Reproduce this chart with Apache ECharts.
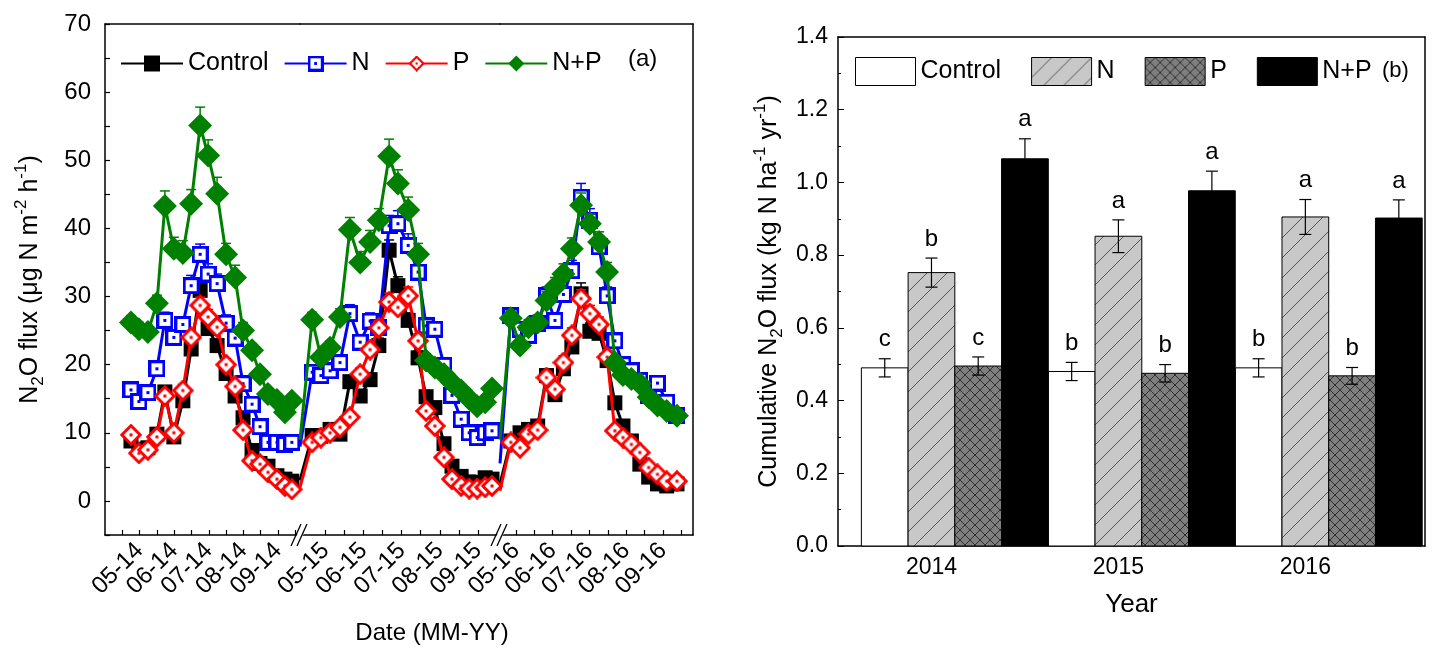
<!DOCTYPE html>
<html><head><meta charset="utf-8">
<script src="https://cdn.jsdelivr.net/npm/echarts@6/dist/echarts.min.js"></script>
<style>html,body{margin:0;padding:0;background:#fff}#c{width:1434px;height:650px}</style>
</head><body><div id="c"></div>
<script>
// ---------- Panel (a): weekly N2O flux, sampling dates as decimal month ----------
const yearSuffix = ['14', '15', '16'];
const months2014 = [4.75, 4.98, 5.24, 5.50, 5.73, 5.99, 6.25, 6.49, 6.75, 6.98, 7.24, 7.50, 7.76, 7.99, 8.25, 8.48, 8.71, 8.97, 9.20, 9.40];
const months2015 = [4.65, 4.88, 5.12, 5.38, 5.64, 5.91, 6.17, 6.40, 6.67, 6.90, 7.17, 7.43, 7.64, 7.87, 8.11, 8.32, 8.56, 8.77, 8.98, 9.19, 9.37];
const months2016 = [4.86, 5.11, 5.34, 5.59, 5.83, 6.06, 6.29, 6.52, 6.77, 7.01, 7.26, 7.48, 7.69, 7.91, 8.14, 8.37, 8.61, 8.85, 9.10, 9.38];

const control2014 = [8.8, 7.6, 7.8, 9.8, 16.0, 9.4, 14.7, 22.3, 30.9, 25.3, 22.8, 18.7, 15.4, 12.2, 7.4, 5.5, 5.1, 3.7, 3.2, 2.9];
const n2014       = [16.3, 14.6, 15.9, 19.4, 26.5, 24.0, 25.9, 31.6, 36.2, 33.3, 31.9, 26.1, 23.9, 17.2, 14.2, 10.9, 8.6, 8.6, 8.3, 8.6];
const p2014       = [9.7, 7.0, 7.5, 9.4, 15.4, 10.0, 16.2, 24.0, 28.7, 27.0, 25.5, 20.0, 16.8, 10.4, 5.9, 5.4, 4.2, 3.2, 2.2, 1.7];
const np2014      = [26.2, 25.2, 24.8, 29.0, 43.3, 37.0, 36.4, 43.6, 55.1, 50.7, 45.1, 36.2, 32.8, 25.0, 22.1, 18.6, 15.7, 14.8, 13.0, 14.7];

const control2015 = [9.6, 9.5, 10.5, 9.8, 17.5, 15.4, 17.8, 22.8, 36.8, 31.6, 26.5, 21.0, 15.3, 13.7, 8.4, 5.1, 3.6, 2.8, 2.7, 3.4, 3.2];
const n2015       = [18.9, 18.4, 19.1, 20.3, 27.5, 23.3, 26.4, 25.5, 40.4, 40.7, 37.5, 33.6, 25.7, 25.2, 19.9, 15.5, 12.0, 10.0, 9.3, 10.0, 10.3];
const p2015       = [8.6, 9.3, 10.0, 10.8, 12.3, 18.6, 22.2, 25.4, 29.2, 28.4, 30.1, 23.5, 13.2, 11.0, 6.4, 3.2, 2.2, 1.8, 1.8, 2.0, 2.2];
const np2015      = [26.6, 21.1, 22.5, 27.0, 39.8, 35.0, 38.0, 41.2, 50.6, 46.6, 42.7, 36.2, 20.6, 19.6, 18.6, 17.4, 16.2, 15.0, 13.9, 14.5, 16.5];

const control2016 = [8.8, 10.0, 10.5, 11.0, 18.4, 15.6, 19.4, 22.6, 30.4, 24.9, 24.6, 20.6, 14.4, 11.0, 8.8, 5.4, 3.5, 2.5, 2.2, 2.5];
const n2016       = [27.2, 25.2, 24.3, 26.0, 30.1, 26.5, 30.3, 33.8, 44.6, 41.2, 37.3, 30.1, 23.5, 20.0, 19.1, 17.7, 15.5, 17.3, 14.5, 12.5];
const p2016       = [8.6, 7.8, 9.8, 10.4, 18.1, 16.4, 20.3, 24.3, 29.7, 27.5, 25.9, 21.1, 10.3, 9.3, 8.3, 7.1, 4.9, 3.9, 2.9, 2.9];
const np2016      = [26.8, 22.8, 25.5, 26.2, 29.4, 31.4, 33.3, 37.0, 43.4, 40.7, 38.0, 33.6, 20.3, 18.5, 17.9, 17.2, 15.2, 14.0, 13.2, 12.5];

// values where the connecting lines leave the axis break (Control, N, P, N+P)
const breakEdge2015 = [3.0, 8.0, 2.0, 9.0];
const breakEdge2016 = [2.5, 5.5, 1.5, 9.0];

// standard errors (upper half visible above markers)
const errControl2014 = [0.6, 0.6, 0.6, 0.6, 0.8, 0.6, 0.8, 1.0, 1.2, 1.0, 0.9, 0.8, 0.7, 0.6, 0.5, 0.5, 0.4, 0.4, 0.3, 0.3];
const errN2014       = [0.8, 0.8, 0.8, 0.9, 1.2, 1.0, 1.1, 1.5, 1.5, 1.5, 1.4, 1.2, 1.0, 0.9, 0.8, 0.7, 0.6, 0.6, 0.6, 0.6];
const errP2014       = [0.6, 0.5, 0.5, 0.6, 0.8, 0.6, 0.9, 1.0, 1.2, 1.1, 1.0, 0.9, 0.8, 0.6, 0.4, 0.4, 0.3, 0.3, 0.2, 0.2];
const errNP2014      = [1.0, 1.0, 1.0, 1.2, 2.2, 1.7, 1.8, 2.1, 2.7, 2.3, 2.4, 1.6, 1.8, 1.2, 1.0, 0.9, 0.8, 0.7, 0.7, 0.7];
const errControl2015 = [0.5, 0.5, 0.6, 0.5, 0.9, 0.8, 0.9, 1.1, 1.5, 1.3, 1.1, 1.0, 0.8, 0.7, 0.5, 0.4, 0.3, 0.3, 0.3, 0.3, 0.3];
const errN2015       = [0.8, 0.8, 0.8, 0.9, 1.3, 1.1, 1.2, 1.2, 1.5, 1.9, 1.7, 1.7, 1.2, 1.1, 0.9, 0.8, 0.7, 0.6, 0.6, 0.6, 0.6];
const errP2015       = [0.5, 0.5, 0.5, 0.6, 0.6, 0.9, 1.0, 1.1, 1.3, 1.2, 1.3, 1.0, 0.7, 0.6, 0.4, 0.3, 0.2, 0.2, 0.2, 0.2, 0.2];
const errNP2015      = [1.1, 1.0, 1.0, 1.2, 1.8, 1.6, 1.7, 1.7, 2.5, 2.0, 1.9, 1.6, 1.0, 0.9, 0.9, 0.8, 0.8, 0.7, 0.7, 0.7, 0.8];
const errControl2016 = [0.5, 0.5, 0.6, 0.6, 0.9, 0.8, 1.0, 1.1, 1.6, 1.2, 1.2, 1.0, 0.7, 0.6, 0.5, 0.4, 0.3, 0.3, 0.2, 0.3];
const errN2016       = [1.0, 1.0, 1.0, 1.0, 1.3, 1.1, 1.3, 1.5, 2.0, 1.7, 1.6, 1.3, 1.0, 0.9, 0.9, 0.8, 0.7, 0.8, 0.7, 0.6];
const errP2016       = [0.5, 0.4, 0.5, 0.5, 0.9, 0.8, 1.0, 1.1, 1.3, 1.2, 1.1, 1.0, 0.5, 0.5, 0.4, 0.4, 0.3, 0.3, 0.2, 0.2];
const errNP2016      = [1.1, 1.0, 1.1, 1.1, 1.3, 1.4, 1.5, 1.6, 1.8, 1.4, 1.5, 1.4, 1.0, 0.9, 0.9, 0.8, 0.7, 0.7, 0.6, 0.6];

const labelMonths = [5, 6, 7, 8, 9];
const seriesNamesA = ['Control', 'N', 'P', 'N+P'];

// ---------- Panel (b): cumulative N2O flux ----------
const years = [2014, 2015, 2016];
const seriesNamesB = ['Control', 'N', 'P', 'N+P'];
const cumControl = [0.490, 0.480, 0.490];
const cumN       = [0.752, 0.852, 0.905];
const cumP       = [0.495, 0.475, 0.468];
const cumNP      = [1.065, 0.977, 0.902];
const errControl = [0.025, 0.025, 0.025];
const errN       = [0.040, 0.045, 0.048];
const errP       = [0.025, 0.024, 0.023];
const errNP      = [0.055, 0.054, 0.050];
const lettersControl = ['c', 'b', 'b'];
const lettersN       = ['b', 'a', 'a'];
const lettersP       = ['c', 'b', 'b'];
const lettersNP      = ['a', 'a', 'a'];

// ---------- styling ----------
const FONT = '"Liberation Sans", Arial, sans-serif';
const segMonths = [months2014, months2015, months2016];
const segValues = [
  [control2014, n2014, p2014, np2014],
  [control2015, n2015, p2015, np2015],
  [control2016, n2016, p2016, np2016]
];
const segEdges = [null, breakEdge2015, breakEdge2016];
const segErrors = [
  [errControl2014, errN2014, errP2014, errNP2014],
  [errControl2015, errN2015, errP2015, errNP2015],
  [errControl2016, errN2016, errP2016, errNP2016]
];
const segRange = [[4.0, 9.636], [4.331, 9.58], [4.565, 9.816]];
const segTicks = [
  [4.5, 5, 5.5, 6, 6.5, 7, 7.5, 8, 8.5, 9, 9.5],
  [5, 5.5, 6, 6.5, 7, 7.5, 8, 8.5, 9],
  [5, 5.5, 6, 6.5, 7, 7.5, 8, 8.5, 9, 9.5]
];
const segGrid = [[105, 195], [300, 200], [500, 193]];
const colorsA = ['#000000', '#0000ff', '#ff0000', '#008000'];

function markerImage(kind) {
  const s = kind === 'square' ? 17 : 22;
  const c = document.createElement('canvas'); c.width = s; c.height = s;
  const g = c.getContext('2d');
  g.lineWidth = 3;
  if (kind === 'square') {
    g.fillStyle = '#fff'; g.strokeStyle = '#0000ff';
    g.fillRect(1.5, 1.5, s - 3, s - 3); g.strokeRect(1.5, 1.5, s - 3, s - 3);
    g.fillStyle = '#0000ff'; g.fillRect(s / 2 - 1.5, s / 2 - 1.5, 3, 3);
  } else {
    const h = s / 2;
    g.fillStyle = '#fff'; g.strokeStyle = '#ff0000';
    g.beginPath(); g.moveTo(h, 1.8); g.lineTo(s - 1.8, h); g.lineTo(h, s - 1.8); g.lineTo(1.8, h); g.closePath();
    g.fill(); g.stroke();
    g.fillStyle = '#ff0000'; g.fillRect(h - 1.5, h - 1.5, 3, 3);
  }
  return { url: 'image://' + c.toDataURL(), size: s };
}
const sqImg = markerImage('square');
const diaImg = markerImage('diamond');
const symbolsA = [
  { symbol: 'rect', size: 15 },
  { symbol: sqImg.url, size: sqImg.size },
  { symbol: diaImg.url, size: diaImg.size },
  { symbol: 'diamond', size: 24 }
];

function hatch(bg, fg, size, cross) {
  const c = document.createElement('canvas'); c.width = size; c.height = size;
  const g = c.getContext('2d');
  g.fillStyle = bg; g.fillRect(0, 0, size, size);
  g.strokeStyle = fg; g.lineWidth = 1;
  g.beginPath();
  g.moveTo(0, size); g.lineTo(size, 0);
  g.moveTo(-size / 2, size / 2); g.lineTo(size / 2, -size / 2);
  g.moveTo(size / 2, size * 1.5); g.lineTo(size * 1.5, size / 2);
  if (cross) {
    g.moveTo(0, 0); g.lineTo(size, size);
    g.moveTo(-size / 2, size / 2); g.lineTo(size / 2, size * 1.5);
    g.moveTo(size / 2, -size / 2); g.lineTo(size * 1.5, size / 2);
  }
  g.stroke();
  return { type: 'pattern', image: c, repeat: 'repeat' };
}
const fillsB = ['#ffffff', hatch('#c8c8c8', '#555555', 20, false), hatch('#7f7f7f', '#303030', 10, true), '#000000'];
const valuesB = [cumControl, cumN, cumP, cumNP];
const errorsB = [errControl, errN, errP, errNP];
const lettersB = [lettersControl, lettersN, lettersP, lettersNP];
const barWidthYears = 0.25;
const barOffsets = [-1, 0, 1, 2].map(f => f * barWidthYears);

// ---------- axes ----------
const grids = [], xAxes = [], yAxes = [];
segGrid.forEach((g) => {
  grids.push({ left: g[0], width: g[1], top: 24, height: 511 });
});
grids.push({ left: 838, width: 587, top: 37, height: 509 });

for (let i = 0; i < 3; i++) {
  xAxes.push({
    type: 'value', gridIndex: i, min: segRange[i][0], max: segRange[i][1],
    axisLine: { show: true, onZero: false, lineStyle: { color: '#000', width: 1.5 } },
    axisTick: { show: true, inside: true, length: 5, customValues: segTicks[i], lineStyle: { color: '#000', width: 1.2 } },
    axisLabel: {
      show: true, customValues: labelMonths, rotate: 45, margin: 12, fontSize: 24, fontFamily: FONT, color: '#000',
      formatter: (v) => '0' + Math.round(v) + '-' + yearSuffix[i]
    },
    splitLine: { show: false }
  });
}
for (let i = 0; i < 3; i++) {
  xAxes.push({
    type: 'value', gridIndex: i, position: 'top', min: segRange[i][0], max: segRange[i][1],
    axisLine: { show: true, onZero: false, lineStyle: { color: '#000', width: 1.5 } },
    axisTick: { show: false }, axisLabel: { show: false }, splitLine: { show: false }
  });
}
// panel b x axes (index 6 bottom, 7 top)
const xMinB = 2013.5, xMaxB = 2016.64;
xAxes.push({
  type: 'value', gridIndex: 3, min: xMinB, max: xMaxB,
  name: 'Year', nameLocation: 'middle', nameGap: 46,
  nameTextStyle: { fontSize: 26, fontFamily: FONT, color: '#000' },
  axisLine: { show: true, onZero: false, lineStyle: { color: '#000', width: 1.5 } },
  axisTick: { show: true, inside: true, length: 6, customValues: years, lineStyle: { color: '#000' } },
  axisLabel: { show: true, customValues: years, margin: 10, fontSize: 23, fontFamily: FONT, color: '#000', formatter: (v) => String(Math.round(v)) },
  splitLine: { show: false }
});
xAxes.push({
  type: 'value', gridIndex: 3, position: 'top', min: xMinB, max: xMaxB,
  axisLine: { show: true, onZero: false, lineStyle: { color: '#000', width: 1.5 } },
  axisTick: { show: false }, axisLabel: { show: false }, splitLine: { show: false }
});

const richName = {
  a: { fontSize: 25, fontFamily: FONT, color: '#000', lineHeight: 34, verticalAlign: 'middle' },
  sub: { fontSize: 17, fontFamily: FONT, color: '#000', lineHeight: 34, verticalAlign: 'bottom' },
  sup: { fontSize: 17, fontFamily: FONT, color: '#000', lineHeight: 34, verticalAlign: 'top' }
};
for (let i = 0; i < 3; i++) {
  yAxes.push({
    type: 'value', gridIndex: i, min: -5, max: 70, interval: 5, show: i === 0,
    name: i === 0 ? '{a|N}{sub|2}{a|O flux (μg N m}{sup|-2}{a| h}{sup|-1}{a|)}' : '',
    nameLocation: 'middle', nameGap: 58, nameRotate: 90,
    nameTextStyle: { rich: richName },
    axisLine: { show: true, onZero: false, lineStyle: { color: '#000', width: 1.5 } },
    axisTick: { show: true, inside: true, length: 5, lineStyle: { color: '#000', width: 1.2 } },
    axisLabel: { margin: 14, fontSize: 24, fontFamily: FONT, color: '#000', formatter: (v) => (v % 10 === 0 ? String(v) : '') },
    splitLine: { show: false }
  });
}
// right border of panel a (index 3)
yAxes.push({
  type: 'value', gridIndex: 2, position: 'right', min: -5, max: 70,
  axisLine: { show: true, onZero: false, lineStyle: { color: '#000', width: 1.5 } },
  axisTick: { show: false }, axisLabel: { show: false }, splitLine: { show: false }
});
// panel b y axis (index 4) and right border (index 5)
yAxes.push({
  type: 'value', gridIndex: 3, min: 0, max: 1.4, interval: 0.2,
  name: '{a|Cumulative N}{sub|2}{a|O flux (kg N ha}{sup|-1}{a| yr}{sup|-1}{a|)}',
  nameLocation: 'middle', nameGap: 52, nameRotate: 90,
  nameTextStyle: { rich: richName },
  axisLine: { show: true, onZero: false, lineStyle: { color: '#000', width: 1.5 } },
  axisTick: { show: true, inside: true, length: 6, lineStyle: { color: '#000' } },
  minorTick: { show: true, splitNumber: 2, length: 3, lineStyle: { color: '#000' } },
  axisLabel: { margin: 10, fontSize: 23, fontFamily: FONT, color: '#000', formatter: (v) => v.toFixed(1) },
  splitLine: { show: false }
});
yAxes.push({
  type: 'value', gridIndex: 3, position: 'right', min: 0, max: 1.4,
  axisLine: { show: true, onZero: false, lineStyle: { color: '#000', width: 1.5 } },
  axisTick: { show: false }, axisLabel: { show: false }, splitLine: { show: false }
});

// ---------- series ----------
const series = [];
for (let k = 0; k < 4; k++) {
  for (let i = 0; i < 3; i++) {
    const pts = segMonths[i].map((m, j) => [m, segValues[i][k][j]]);
    if (segEdges[i]) pts.unshift({ value: [segRange[i][0], segEdges[i][k]], symbol: 'none' });
    series.push({
      type: 'line', name: seriesNamesA[k], xAxisIndex: i, yAxisIndex: i,
      data: pts,
      symbol: symbolsA[k].symbol, symbolSize: symbolsA[k].size,
      lineStyle: { color: colorsA[k], width: 3 },
      itemStyle: { color: colorsA[k] },
      z: 2 + k, clip: true, animation: false
    });
    // error bars (same z; listed after so legend icons come from the line series)
    series.push({
      type: 'custom', name: seriesNamesA[k] + ' SE', xAxisIndex: i, yAxisIndex: i, z: 2 + k, zlevel: 0,
      itemStyle: { color: colorsA[k] },
      data: segMonths[i].map((m, j) => [m, segValues[i][k][j], segErrors[i][k][j]]),
      renderItem: (params, api) => {
        const top = api.coord([api.value(0), api.value(1) + api.value(2)]);
        const bot = api.coord([api.value(0), api.value(1)]);
        return {
          type: 'group', children: [
            { type: 'line', shape: { x1: top[0], y1: bot[1], x2: top[0], y2: top[1] }, style: { stroke: colorsA[k], lineWidth: 1.5 } },
            { type: 'line', shape: { x1: top[0] - 5, y1: top[1], x2: top[0] + 5, y2: top[1] }, style: { stroke: colorsA[k], lineWidth: 1.5 } }
          ]
        };
      },
      animation: false
    });
  }
}
for (let k = 0; k < 4; k++) {
  series.push({
    type: 'custom', name: seriesNamesB[k] + ' ', xAxisIndex: 6, yAxisIndex: 4,
    itemStyle: { color: fillsB[k], borderColor: '#000', borderWidth: 1 },
    data: years.map((y, i) => [y, valuesB[k][i], errorsB[k][i]]),
    renderItem: (params, api) => {
      const x = api.value(0) + barOffsets[k];
      const v = api.value(1), e = api.value(2);
      const p0 = api.coord([x - barWidthYears / 2, v]);
      const p1 = api.coord([x + barWidthYears / 2, 0]);
      const pt = api.coord([x, v + e]);
      const pb = api.coord([x, v - e]);
      const cx = (p0[0] + p1[0]) / 2;
      const cap = 6;
      return {
        type: 'group', children: [
          { type: 'rect', shape: { x: p0[0], y: p0[1], width: p1[0] - p0[0], height: p1[1] - p0[1] },
            style: { fill: fillsB[k], stroke: '#000', lineWidth: 1 } },
          { type: 'line', shape: { x1: cx, y1: pb[1], x2: cx, y2: pt[1] }, style: { stroke: '#000', lineWidth: 1.2 } },
          { type: 'line', shape: { x1: cx - cap, y1: pt[1], x2: cx + cap, y2: pt[1] }, style: { stroke: '#000', lineWidth: 1.2 } },
          { type: 'line', shape: { x1: cx - cap, y1: pb[1], x2: cx + cap, y2: pb[1] }, style: { stroke: '#000', lineWidth: 1.2 } },
          { type: 'text', x: cx, y: pt[1] - 7,
            style: { text: lettersB[k][params.dataIndex], fill: '#000', fontSize: 24, fontFamily: FONT, textAlign: 'center', textVerticalAlign: 'bottom' } }
        ]
      };
    },
    animation: false
  });
}

const chart = echarts.init(document.getElementById('c'), null, { renderer: 'canvas' });
chart.setOption({
  backgroundColor: '#fff',
  animation: false,
  grid: grids, xAxis: xAxes, yAxis: yAxes,
  legend: [
    {
      data: seriesNamesA, left: 115, top: 46, itemWidth: 62, itemHeight: 20, itemGap: 15,
      selectedMode: false, textStyle: { fontSize: 25, fontFamily: FONT, color: '#000' }
    },
    {
      data: seriesNamesB.map(n => n + ' '), left: 850, top: 52, icon: 'rect', itemWidth: 60, itemHeight: 28, itemGap: 30,
      selectedMode: false, formatter: (n) => n.trim(),
      itemStyle: { borderColor: '#000', borderWidth: 1 },
      textStyle: { fontSize: 25, fontFamily: FONT, color: '#000' }
    }
  ],
  series: series
});

// decorations: axis-break marks, panel tags and x title
const axisY = chart.convertToPixel({ yAxisIndex: 0 }, -5);
const breaks = [chart.convertToPixel({ xAxisIndex: 0 }, segRange[0][1]), chart.convertToPixel({ xAxisIndex: 1 }, segRange[1][1])];
const graphics = [];
breaks.forEach((bx) => {
  graphics.push({ type: 'polygon', shape: { points: [[bx - 7, axisY + 6], [bx - 1, axisY + 6], [bx + 7, axisY - 6], [bx + 1, axisY - 6]] }, style: { fill: '#fff' }, z: 100 });
  graphics.push({ type: 'line', shape: { x1: bx - 9, y1: axisY + 11, x2: bx + 1, y2: axisY - 11 }, style: { stroke: '#000', lineWidth: 1.3 }, z: 101 });
  graphics.push({ type: 'line', shape: { x1: bx - 3, y1: axisY + 11, x2: bx + 7, y2: axisY - 11 }, style: { stroke: '#000', lineWidth: 1.3 }, z: 101 });
});
graphics.push({ type: 'text', left: 628, top: 47, style: { text: '(a)', fontSize: 24, fontFamily: FONT, fill: '#000' } });
graphics.push({ type: 'text', left: 1382, top: 60, style: { text: '(b)', fontSize: 22, fontFamily: FONT, fill: '#000' } });
graphics.push({ type: 'text', x: 432, y: 633, style: { text: 'Date (MM-YY)', fontSize: 24, fontFamily: FONT, fill: '#000', textAlign: 'center', textVerticalAlign: 'middle' } });
chart.setOption({ graphic: graphics });
</script>
</body></html>
